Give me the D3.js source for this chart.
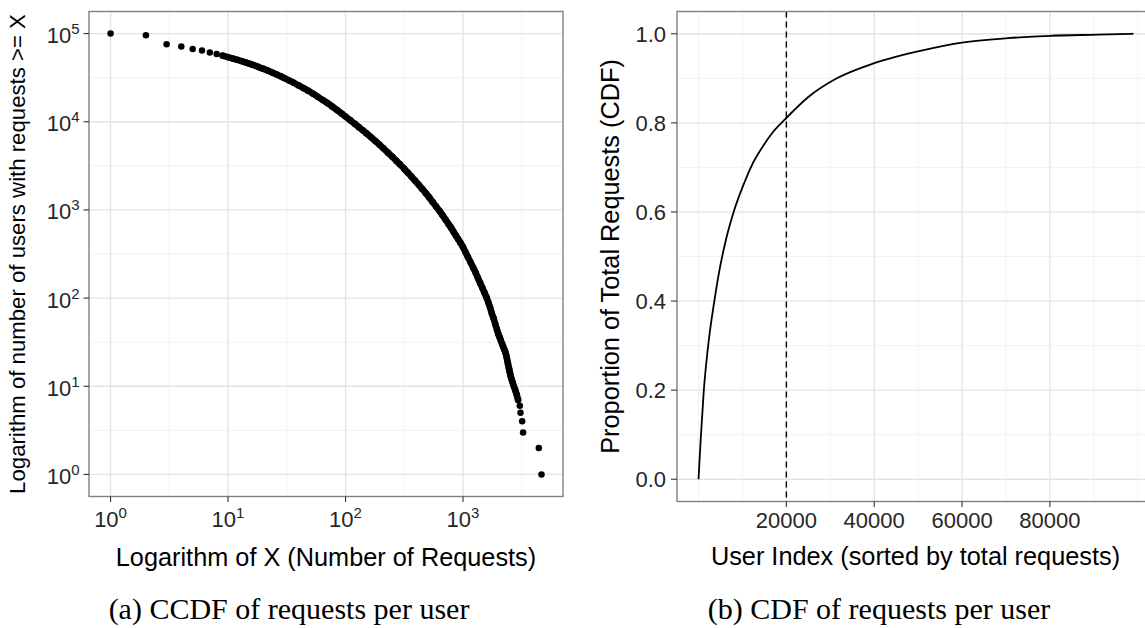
<!DOCTYPE html>
<html><head><meta charset="utf-8">
<script src="https://cdnjs.cloudflare.com/ajax/libs/d3/7.8.5/d3.min.js"></script>
<style>
body{margin:0;background:#fff;}
svg{display:block;}
.sans{font-family:"Liberation Sans",Arial,sans-serif;}
.serif{font-family:"Liberation Serif","Times New Roman",serif;}
</style></head><body>
<svg id="chart" width="1145" height="628"></svg>
<script>
// ---------- data ----------
// (a) CCDF: number of requests X and number of users with requests >= X
const ccdfRequests = [1,2,3,4,5,6,7,8,9,10,11,12,13,14,15,16,18,20,22,24,26,28,30,33,36,40,44,48,53,58,64,70,77,85,93,100,110,120,130,140,150,165,180,195,210,230,250,270,290,315,340,365,390,420,450,480,515,550,590,630,670,710,750,790,830,870,910,950,1000,1050,1100,1160,1220,1280,1340,1400,1460,1520,1585,1640,1700,1760,1820,1880,1945,2000,2051,2099,2157,2200,2249,2301,2339,2375,2414,2460,2486,2514,2545,2593,2647,2708,2786,2869,2942,3043,3085,3186,3245,4416,4656];
const ccdfUsers = [99800,95700,75700,71300,67000,64100,60900,58500,56100,53950,52000,50350,48750,47200,45800,44460,41980,39810,37840,35970,34280,32730,31330,29440,27800,25760,24040,22490,20750,19230,17660,16290,14890,13520,12330,11460,10360,9460,8685,8005,7420,6660,6008,5467,4989,4449,4006,3613,3284,2940,2633,2376,2158,1924,1726,1558,1388,1238,1095,978,867,774,696,629,566,512,465,424,379,332,293,254,222,194,169,148,131,116,102,90,78,67,59,51,44,39,36,33,30,28,26,24,22,20,18,16,15,14,13,12,11,10,9,8,7,6,5,4,3,2,1];
const ccdfXTickExponents = [0,1,2,3];
const ccdfYTickExponents = [0,1,2,3,4,5];

// (b) CDF: user index (sorted) and proportion of total requests
const cdfUserIndex = [1,150,500,1180,2160,3600,4500,6300,8000,10400,12000,14500,17000,19800,25000,31500,40000,51500,60000,70400,80000,90900,99000];
const cdfProportion = [0.0,0.028,0.09,0.196,0.297,0.40,0.455,0.54,0.60,0.665,0.702,0.745,0.78,0.809,0.858,0.90,0.934,0.964,0.980,0.990,0.9955,0.998,1.0];
const cdfXTicks = [20000,40000,60000,80000];
const cdfYTicks = [0.0,0.2,0.4,0.6,0.8,1.0];
const cdfMarker = 20000;

// ---------- layout ----------
const svg = d3.select("#chart");
const LP = {x0:89, x1:563, y0:11.5, y1:496.5};
const RP = {x0:677, x1:1154, y0:11.5, y1:501.5};
const GRID_MAJ = "#e3e3e3", GRID_MIN = "#f2f2f2", BORDER = "#808080", TICK = "#333", LABEL = "#262626";
const TITLE_SIZE = 25.3;

const xL = d3.scaleLog().domain([Math.pow(10,-0.1834), Math.pow(10,3.851)]).range([LP.x0, LP.x1]);
const yL = d3.scaleLog().domain([Math.pow(10,-0.25), Math.pow(10,5.25)]).range([LP.y1, LP.y0]);
const xR = d3.scaleLinear().domain([-4900, 103700]).range([RP.x0, RP.x1]);
const yR = d3.scaleLinear().domain([-0.05, 1.05]).range([RP.y1, RP.y0]);

function grid(g, P, xs, ys, color, w){
  g.selectAll(null).data(xs).enter().append("line")
    .attr("x1",d=>d).attr("x2",d=>d).attr("y1",P.y0).attr("y2",P.y1)
    .attr("stroke",color).attr("stroke-width",w);
  g.selectAll(null).data(ys).enter().append("line")
    .attr("y1",d=>d).attr("y2",d=>d).attr("x1",P.x0).attr("x2",P.x1)
    .attr("stroke",color).attr("stroke-width",w);
}
function txt(g, cls){ return g.append("text").attr("class", cls || "sans"); }

// ---------- left panel ----------
const gl = svg.append("g");
grid(gl, LP, [0.5,1.5,2.5,3.5].map(e=>xL(Math.pow(10,e))), [0.5,1.5,2.5,3.5,4.5].map(e=>yL(Math.pow(10,e))), GRID_MIN, 1);
grid(gl, LP, ccdfXTickExponents.map(e=>xL(Math.pow(10,e))), ccdfYTickExponents.map(e=>yL(Math.pow(10,e))), GRID_MAJ, 1.3);

const pts = ccdfRequests.map((x,i)=>({x:x, n:ccdfUsers[i]}));
const dense = pts.filter(d=>d.x>=9 && d.n>=7);
gl.append("path").datum(dense)
  .attr("d", d3.line().x(d=>xL(d.x)).y(d=>yL(d.n)).curve(d3.curveMonotoneX))
  .attr("fill","none").attr("stroke","#000").attr("stroke-width",6.6)
  .attr("stroke-linecap","round").attr("stroke-linejoin","round");
gl.selectAll("circle").data(pts).enter().append("circle")
  .attr("cx",d=>xL(d.x)).attr("cy",d=>yL(d.n)).attr("r",3.25).attr("fill","#000");

gl.append("rect").attr("x",LP.x0).attr("y",LP.y0).attr("width",LP.x1-LP.x0).attr("height",LP.y1-LP.y0)
  .attr("fill","none").attr("stroke",BORDER).attr("stroke-width",1.4);

ccdfYTickExponents.forEach(e=>{
  const y = yL(Math.pow(10,e));
  gl.append("line").attr("x1",LP.x0-5.5).attr("x2",LP.x0).attr("y1",y).attr("y2",y).attr("stroke",TICK).attr("stroke-width",1.1);
  const t = txt(gl).attr("x",79.5).attr("y",y+9.5).attr("text-anchor","end").attr("font-size",22).attr("fill",LABEL);
  t.append("tspan").text("10");
  t.append("tspan").attr("dy",-9).attr("font-size",15).text(e);
});
ccdfXTickExponents.forEach(e=>{
  const x = xL(Math.pow(10,e));
  gl.append("line").attr("x1",x).attr("x2",x).attr("y1",LP.y1).attr("y2",LP.y1+5.5).attr("stroke",TICK).attr("stroke-width",1.1);
  const t = txt(gl).attr("x",x).attr("y",527).attr("text-anchor","middle").attr("font-size",22).attr("fill",LABEL);
  t.append("tspan").text("10");
  t.append("tspan").attr("dy",-9).attr("font-size",15).text(e);
});
txt(gl).attr("x",(LP.x0+LP.x1)/2).attr("y",566).attr("text-anchor","middle").attr("font-size",TITLE_SIZE).attr("fill","#000")
  .text("Logarithm of X (Number of Requests)");
txt(gl).attr("transform",`translate(25,${(LP.y0+LP.y1)/2}) rotate(-90)`).attr("text-anchor","middle").attr("font-size",22.2).attr("fill","#000")
  .text("Logarithm of number of users with requests >= X");
txt(gl,"serif").attr("x",289).attr("y",619).attr("text-anchor","middle").attr("font-size",30).attr("fill","#000")
  .text("(a) CCDF of requests per user");

// ---------- right panel ----------
const gr = svg.append("g");
grid(gr, RP, [0,10000,30000,50000,70000,90000,100000].map(xR), [0.1,0.3,0.5,0.7,0.9].map(yR), GRID_MIN, 1);
grid(gr, RP, cdfXTicks.map(xR), cdfYTicks.map(yR), GRID_MAJ, 1.3);

gr.append("line").attr("x1",xR(cdfMarker)).attr("x2",xR(cdfMarker)).attr("y1",RP.y0).attr("y2",RP.y1)
  .attr("stroke","#000").attr("stroke-width",1.4).attr("stroke-dasharray","6,4");

const cdf = cdfUserIndex.map((x,i)=>({x:x, y:cdfProportion[i]}));
gr.append("path").datum(cdf)
  .attr("d", d3.line().x(d=>xR(d.x)).y(d=>yR(d.y)).curve(d3.curveMonotoneX))
  .attr("fill","none").attr("stroke","#000").attr("stroke-width",1.8);

gr.append("rect").attr("x",RP.x0).attr("y",RP.y0).attr("width",RP.x1-RP.x0).attr("height",RP.y1-RP.y0)
  .attr("fill","none").attr("stroke",BORDER).attr("stroke-width",1.4);

cdfYTicks.forEach(v=>{
  const y = yR(v);
  gr.append("line").attr("x1",RP.x0-6).attr("x2",RP.x0).attr("y1",y).attr("y2",y).attr("stroke",TICK).attr("stroke-width",1.1);
  txt(gr).attr("x",666).attr("y",y+8).attr("text-anchor","end").attr("font-size",22).attr("fill",LABEL).text(d3.format(".1f")(v));
});
cdfXTicks.forEach(v=>{
  const x = xR(v);
  gr.append("line").attr("x1",x).attr("x2",x).attr("y1",RP.y1).attr("y2",RP.y1+5.5).attr("stroke",TICK).attr("stroke-width",1.1);
  txt(gr).attr("x",x).attr("y",528).attr("text-anchor","middle").attr("font-size",22).attr("fill",LABEL).text(v);
});
txt(gr).attr("x",915.5).attr("y",565).attr("text-anchor","middle").attr("font-size",TITLE_SIZE).attr("fill","#000")
  .text("User Index (sorted by total requests)");
txt(gr).attr("transform",`translate(619,${(RP.y0+RP.y1)/2}) rotate(-90)`).attr("text-anchor","middle").attr("font-size",TITLE_SIZE).attr("fill","#000")
  .text("Proportion of Total Requests (CDF)");
txt(gr,"serif").attr("x",879).attr("y",619).attr("text-anchor","middle").attr("font-size",30).attr("fill","#000")
  .text("(b) CDF of requests per user");
</script>
</body></html>
